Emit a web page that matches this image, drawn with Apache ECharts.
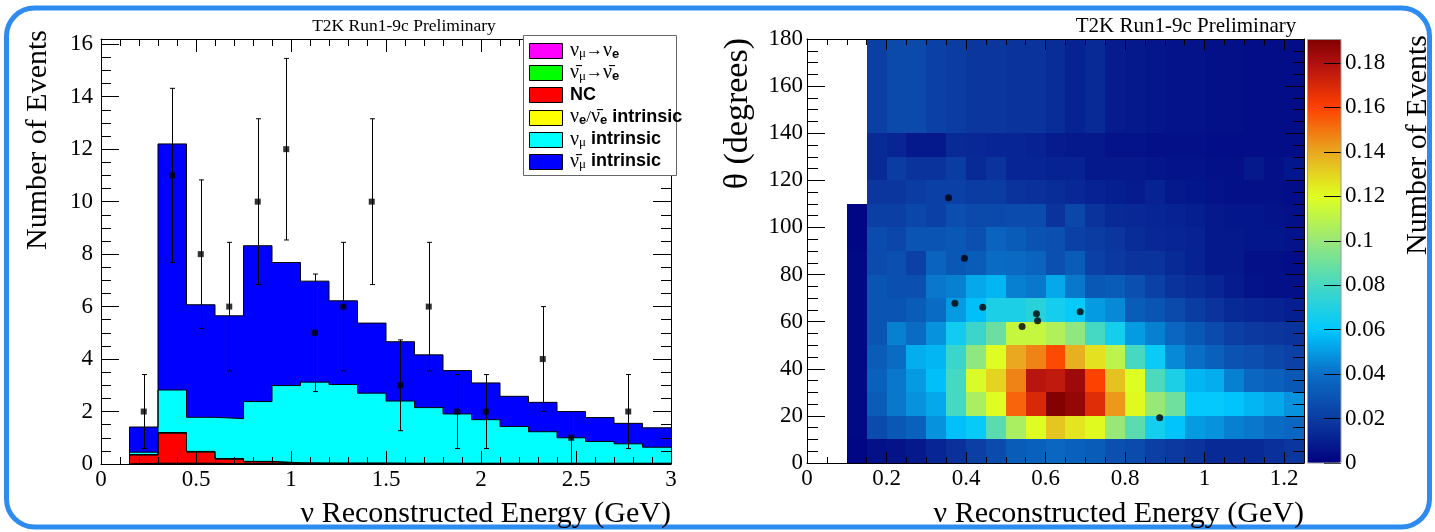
<!DOCTYPE html>
<html><head><meta charset="utf-8">
<script src="https://cdn.jsdelivr.net/npm/echarts@6/dist/echarts.min.js"></script>
<style>html,body{margin:0;padding:0;background:#fff}#c{width:1435px;height:532px}</style>
</head><body><div id="c"></div>
<script>
// ================= DATA =================
// Left panel: reconstructed-energy bins (GeV)
const binEdges = [0.15,0.30,0.45,0.60,0.75,0.90,1.05,1.20,1.35,1.50,1.65,1.80,1.95,2.10,2.25,2.40,2.55,2.70,2.85,3.00];
// predicted events per bin, per component (stacked bottom -> top)
const numuToNue       = [0.01,0.02,0.02,0.01,0.01,0.01,0.01,0.01,0.01,0.01,0.01,0.01,0.01,0.01,0.01,0.01,0.01,0.01,0.01];
const numubarToNuebar = [0.02,0.01,0.01,0,0,0,0,0,0,0,0,0,0,0,0,0,0,0,0];
const ncEvents        = [0.31,1.14,0.42,0.17,0.07,0.02,0.01,0.01,0.01,0.01,0.01,0.01,0.01,0.01,0.01,0.01,0.01,0.01,0.01];
const nueIntrinsic    = [0.02,0.03,0.03,0.03,0.02,0.02,0.02,0.02,0.02,0.01,0.01,0.01,0.01,0.01,0.01,0.01,0.01,0.01,0.01];
const numuIntrinsic   = [0.09,1.62,1.30,1.52,2.28,2.94,3.08,2.99,2.66,2.37,2.12,1.88,1.66,1.40,1.20,0.97,0.83,0.74,0.61];
const numubarIntrinsic= [0.96,9.38,4.29,3.92,5.94,4.69,3.85,3.19,2.67,2.26,2.01,1.65,1.40,1.15,1.12,1.00,0.91,0.78,0.74];
// observed data (per bin centre) and error bars
const dataCounts = [2,11,8,6,10,12,5,6,10,3,6,2,2,0,4,1,0,2,0];
const dataErrors = [1.41,3.32,2.83,2.45,3.16,3.46,2.24,2.45,3.16,1.73,2.45,1.41,1.41,0,2,1,0,1.41,0];

// Right panel: 2D prediction, energy (GeV) x theta (deg)
const eEdges = [0.10,0.15,0.20,0.25,0.30,0.35,0.40,0.45,0.50,0.55,0.60,0.65,0.70,0.75,0.80,0.85,0.90,0.95,1.00,1.05,1.10,1.15,1.20,1.25];
const thetaEdges = [0,10,20,30,40,50,60,70,80,90,100,110,120,130,140,180];
const row000 = [0.002,0.005,0.006,0.008,0.012,0.016,0.021,0.026,0.033,0.035,0.037,0.035,0.033,0.028,0.026,0.021,0.019,0.017,0.014,0.014,0.014,0.016,0.018];
const row010 = [0.003,0.026,0.031,0.035,0.048,0.058,0.062,0.085,0.105,0.120,0.133,0.126,0.121,0.100,0.085,0.066,0.059,0.050,0.048,0.044,0.042,0.039,0.037];
const row020 = [0.003,0.033,0.042,0.048,0.053,0.080,0.105,0.120,0.153,0.170,0.190,0.186,0.168,0.143,0.121,0.100,0.090,0.061,0.061,0.059,0.056,0.053,0.048];
const row030 = [0.003,0.035,0.042,0.050,0.058,0.080,0.118,0.130,0.147,0.178,0.176,0.184,0.160,0.134,0.120,0.082,0.068,0.056,0.054,0.044,0.037,0.035,0.031];
const row040 = [0.003,0.033,0.039,0.054,0.056,0.077,0.098,0.120,0.140,0.147,0.158,0.138,0.127,0.110,0.080,0.063,0.046,0.040,0.035,0.029,0.027,0.024,0.022];
const row050 = [0.003,0.030,0.044,0.039,0.048,0.065,0.077,0.089,0.113,0.113,0.107,0.098,0.080,0.066,0.050,0.044,0.037,0.031,0.026,0.021,0.019,0.018,0.017];
const row060 = [0.003,0.030,0.030,0.033,0.039,0.050,0.058,0.068,0.068,0.072,0.066,0.062,0.050,0.046,0.033,0.030,0.025,0.020,0.017,0.014,0.012,0.011,0.010];
const row070 = [0.003,0.030,0.028,0.028,0.042,0.044,0.053,0.056,0.044,0.042,0.053,0.042,0.031,0.033,0.028,0.022,0.017,0.015,0.012,0.009,0.006,0.005,0.005];
const row080 = [0.003,0.026,0.028,0.022,0.036,0.031,0.033,0.039,0.038,0.036,0.028,0.033,0.022,0.019,0.017,0.017,0.014,0.011,0.008,0.008,0.005,0.005,0.004];
const row090 = [0.002,0.026,0.024,0.030,0.030,0.031,0.028,0.036,0.033,0.029,0.028,0.022,0.020,0.018,0.015,0.013,0.012,0.011,0.008,0.008,0.007,0.007,0.006];
const row100 = [0.002,0.021,0.021,0.024,0.022,0.027,0.025,0.025,0.026,0.026,0.017,0.024,0.017,0.014,0.013,0.012,0.011,0.010,0.008,0.007,0.007,0.006,0.005];
const row110 = [0,0.018,0.018,0.020,0.022,0.022,0.020,0.020,0.017,0.016,0.015,0.013,0.011,0.010,0.009,0.011,0.008,0.007,0.006,0.005,0.005,0.005,0.004];
const row120 = [0,0.014,0.020,0.017,0.017,0.020,0.014,0.017,0.012,0.012,0.011,0.011,0.008,0.008,0.008,0.007,0.006,0.006,0.005,0.005,0.008,0.005,0.007];
const row130 = [0,0.014,0.012,0.008,0.008,0.014,0.013,0.012,0.012,0.011,0.009,0.008,0.008,0.006,0.006,0.005,0.005,0.005,0.004,0.004,0.004,0.004,0.004];
const row140 = [0,0.021,0.025,0.025,0.022,0.020,0.018,0.018,0.017,0.017,0.015,0.011,0.014,0.009,0.008,0.007,0.006,0.006,0.005,0.005,0.004,0.004,0.004];
const heatRows = [row000,row010,row020,row030,row040,row050,row060,row070,row080,row090,row100,row110,row120,row130,row140];
// observed events in the 2D panel
const obsEnergy = [0.356,0.396,0.372,0.442,0.541,0.577,0.580,0.687,0.887];
const obsTheta  = [112.6,86.9,67.8,66.1,57.9,63.4,60.4,64.2,19.2];

// tick labels
const leftXTicks  = [0,0.5,1,1.5,2,2.5,3];
const leftYTicks  = [0,2,4,6,8,10,12,14,16];
const rightXTicks = [0,0.2,0.4,0.6,0.8,1,1.2];
const rightYTicks = [0,20,40,60,80,100,120,140,160,180];
const colorTicks  = [0,0.02,0.04,0.06,0.08,0.1,0.12,0.14,0.16,0.18];

// ================= STYLE =================
const SERIF = 'Liberation Serif', SANS = 'Liberation Sans';
const layerNames  = ['numu_nue','numubar_nuebar','nc','nue_intr','numu_intr','numubar_intr'];
const layerColors = ['#ff00ff','#00ff00','#ff0000','#ffff00','#00ffff','#0000ff'];
const layerData   = [numuToNue,numubarToNuebar,ncEvents,nueIntrinsic,numuIntrinsic,numubarIntrinsic];
const legendLabels = [
  '{n|ν}{s|μ}{a|→}{n|ν}{se|e}',
  '{n|ν\u0304}{s|μ}{a|→}{n|ν\u0304}{se|e}',
  '{b|NC}',
  '{n|ν}{se|e}{a|/}{n|ν\u0304}{se|e}{b| intrinsic}',
  '{n|ν}{s|μ}{b| intrinsic}',
  '{n|ν\u0304}{s|μ}{b| intrinsic}'
];
const paletteStops = [[0,'#000080'],[0.01,'#061f90'],[0.02,'#0b3ca2'],[0.04,'#0a6ec6'],[0.06,'#00c8ff'],[0.08,'#45d8c3'],[0.10,'#98e878'],[0.12,'#e0ff20'],[0.14,'#e8a820'],[0.16,'#ff4000'],[0.18,'#b01010'],[0.1908,'#800000']];
const CMAX = 0.1908;

function hex2rgb(h){return [parseInt(h.substr(1,2),16),parseInt(h.substr(3,2),16),parseInt(h.substr(5,2),16)];}
function paletteAt(v){
  for (let i=1;i<paletteStops.length;i++){
    if (v<=paletteStops[i][0]){
      const a=paletteStops[i-1], b=paletteStops[i];
      const t=(v-a[0])/(b[0]-a[0]); const ca=hex2rgb(a[1]), cb=hex2rgb(b[1]);
      return 'rgb('+ca.map((c,k)=>Math.round(c+(cb[k]-c)*t)).join(',')+')';
    }
  }
  return paletteStops[paletteStops.length-1][1];
}
const paletteColors=[]; for(let i=0;i<=120;i++) paletteColors.push(paletteAt(CMAX*i/120));

function minorList(max, step){const a=[];for(let i=0;i*step<=max+1e-9;i++)a.push(Math.round(i*step*10000)/10000);return a;}

function mkAxis(gridIndex, position, min, max, ticks, len, opt){
  opt = opt||{};
  return {
    type:'value', gridIndex, position, min, max, z:10, silent:true,
    axisLine:{show:!!opt.line, onZero:false, lineStyle:{color:'#000',width:1}},
    axisTick:{show:true, inside:true, length:len, customValues:ticks, lineStyle:{color:'#000',width:1}},
    axisLabel: opt.labels ? {show:true, customValues:opt.labels, color:'#000', fontFamily:SERIF, fontSize:23, margin:opt.margin} : {show:false},
    splitLine:{show:false}, axisPointer:{show:false}
  };
}

// cumulative stacks
const cumul=[]; let run=binEdges.slice(1).map(()=>0);
layerData.forEach(arr=>{run=run.map((v,i)=>v+arr[i]); cumul.push(run.slice());});
function stepPoints(levels){
  const pts=[[binEdges[0],0]];
  levels.forEach((l,i)=>pts.push([binEdges[i],l]));
  pts.push([binEdges[binEdges.length-1],levels[levels.length-1]]);
  return pts;
}
const centers = binEdges.slice(1).map((e,i)=>Math.round((binEdges[i]+e)/2*1000)/1000);

const xAxes = [
  mkAxis(0,'bottom',0,3,leftXTicks,13,{line:true,labels:leftXTicks,margin:4}),
  mkAxis(0,'bottom',0,3,minorList(3,0.1),7),
  mkAxis(0,'top',0,3,leftXTicks,13,{line:true}),
  mkAxis(0,'top',0,3,minorList(3,0.1),7),
  mkAxis(1,'bottom',0,1.25,rightXTicks,11,{line:true,labels:rightXTicks,margin:4}),
  mkAxis(1,'bottom',0,1.25,minorList(1.25,0.05),6),
  mkAxis(1,'top',0,1.25,rightXTicks,11,{line:true}),
  mkAxis(1,'top',0,1.25,minorList(1.25,0.05),6),
  {type:'value',gridIndex:2,min:0,max:1,show:false}
];
const yAxes = [
  mkAxis(0,'left',0,16.2,leftYTicks,18,{line:true,labels:leftYTicks,margin:8}),
  mkAxis(0,'left',0,16.2,minorList(16,0.5),10),
  mkAxis(0,'right',0,16.2,leftYTicks,18,{line:true}),
  mkAxis(0,'right',0,16.2,minorList(16,0.5),10),
  mkAxis(1,'left',0,180,rightYTicks,18,{line:true,labels:rightYTicks,margin:4}),
  mkAxis(1,'left',0,180,minorList(180,5),11),
  mkAxis(1,'right',0,180,rightYTicks,18,{line:true}),
  mkAxis(1,'right',0,180,minorList(180,5),11),
  mkAxis(2,'right',0,CMAX,colorTicks,17,{labels:colorTicks,margin:4})
];

const series = [];
// stacked histogram (draw top of stack first)
for (let k=layerData.length-1;k>=0;k--){
  series.push({
    type:'line', name:layerNames[k], xAxisIndex:0, yAxisIndex:0,
    data:stepPoints(cumul[k]), step:'end', symbol:'none', silent:true,
    lineStyle:{color:'#000',width:1}, areaStyle:{color:layerColors[k],opacity:1,origin:'start'}, z:2
  });
}
// data error bars
const obsPts = centers.map((c,i)=>[c,dataCounts[i],dataErrors[i]]).filter(p=>p[1]>0);
series.push({
  type:'custom', xAxisIndex:0, yAxisIndex:0, data:obsPts, z:4, silent:true,
  encode:{x:0,y:1},
  renderItem:function(params,api){
    const x=api.value(0), y=api.value(1), e=api.value(2);
    const t=api.coord([x,y+e]), b=api.coord([x,y-e]);
    const px=Math.round(t[0])+0.5, cap=2.5, st={stroke:'#000',lineWidth:1};
    return {type:'group',children:[
      {type:'line',shape:{x1:px,y1:t[1],x2:px,y2:b[1]},style:st},
      {type:'line',shape:{x1:px-cap,y1:t[1],x2:px+cap,y2:t[1]},style:st},
      {type:'line',shape:{x1:px-cap,y1:b[1],x2:px+cap,y2:b[1]},style:st}
    ]};
  }
});
series.push({type:'scatter',xAxisIndex:0,yAxisIndex:0,data:obsPts.map(p=>[p[0],p[1]]),symbol:'rect',symbolSize:6,itemStyle:{color:'#000'},z:5,silent:true});

// heatmap cells
const cells=[];
heatRows.forEach((row,r)=>row.forEach((v,c)=>{ if(v>0) cells.push([eEdges[c],eEdges[c+1],thetaEdges[r],thetaEdges[r+1],v]); }));
series.push({
  type:'custom', xAxisIndex:4, yAxisIndex:4, data:cells, z:2, silent:true,
  encode:{x:[0,1],y:[2,3]},
  renderItem:function(params,api){
    const p0=api.coord([api.value(0),api.value(2)]), p1=api.coord([api.value(1),api.value(3)]);
    const x0=Math.round(p0[0]), x1=Math.round(p1[0]), y0=Math.round(p1[1]), y1=Math.round(p0[1]);
    return {type:'rect',shape:{x:x0,y:y0,width:x1-x0,height:y1-y0},style:{fill:api.visual('color')}};
  }
});
series.push({type:'scatter',xAxisIndex:4,yAxisIndex:4,data:obsEnergy.map((e,i)=>[e,obsTheta[i]]),symbol:'circle',symbolSize:7,itemStyle:{color:'#000'},z:5,silent:true});
const heatIndex = series.length-2;

// legend (graphic)
const legendEls=[{type:'rect',shape:{x:523.5,y:35.5,width:153,height:140},style:{fill:'#fff',stroke:'#666',lineWidth:1},z:20}];
const legendOrder=[0,1,2,3,4,5];
legendOrder.forEach((k,i)=>{
  const cy=50.5+i*22.2;
  legendEls.push({type:'rect',shape:{x:529.5,y:Math.round(cy-7.5)+0.5,width:33,height:15},style:{fill:layerColors[k],stroke:'#000',lineWidth:1},z:21});
  legendEls.push({type:'text',x:570,y:cy,z:21,style:{text:legendLabels[k],align:'left',verticalAlign:'middle',fill:'#000',
    rich:{
      n:{fontFamily:SERIF,fontSize:20,lineHeight:20,fill:'#000'},
      a:{fontFamily:SERIF,fontSize:17,lineHeight:20,fill:'#000'},
      s:{fontFamily:SERIF,fontSize:13,lineHeight:10,verticalAlign:'bottom',fill:'#000'},
      se:{fontFamily:SANS,fontWeight:'bold',fontSize:13,lineHeight:10,verticalAlign:'bottom',fill:'#000'},
      b:{fontFamily:SANS,fontWeight:'bold',fontSize:18,lineHeight:20,fill:'#000'}
    }}});
});

const textEl=(x,y,text,size,align,rot,extra)=>Object.assign({type:'text',x,y,rotation:rot||0,z:30,silent:true,
  style:{text,font:size+'px "'+SERIF+'"',fill:'#000',align:align,verticalAlign:'middle'}},extra||{});

const option = {
  animation:false,
  backgroundColor:'#fff',
  grid:[
    {left:101,top:39,width:570,height:425,containLabel:false,outerBoundsMode:'none'},
    {left:807,top:39,width:497,height:424,containLabel:false,outerBoundsMode:'none'},
    {left:1307,top:39,width:34,height:424,containLabel:false,outerBoundsMode:'none'}
  ],
  xAxis:xAxes, yAxis:yAxes,
  visualMap:[{type:'continuous',min:0,max:CMAX,dimension:4,seriesIndex:heatIndex,inRange:{color:paletteColors},
    left:1307,top:39,itemWidth:34,itemHeight:424,padding:0,calculable:false,hoverLink:false,text:null,showLabel:false,z:5}],
  series:series,
  graphic:[
    {type:'rect',shape:{x:6.5,y:8,width:1423,height:519,r:28},style:{fill:'none',stroke:'#2e8bf0',lineWidth:5},z:0,silent:true},
    {type:'rect',shape:{x:1307.5,y:39.5,width:33.5,height:423.5},style:{fill:'none',stroke:'#999',lineWidth:1},z:25,silent:true},
    textEl(404,26,'T2K Run1-9c Preliminary',17.5,'center'),
    textEl(1186,26,'T2K Run1-9c Preliminary',21,'center'),
    textEl(671,514,'ν Reconstructed Energy (GeV)',30,'right'),
    textEl(1304,514,'ν Reconstructed Energy (GeV)',30,'right'),
    textEl(38,30,'Number of Events',30,'right',Math.PI/2),
    textEl(738,38,'θ (degrees)',34,'right',Math.PI/2),
    textEl(1418,35,'Number of Events',30,'right',Math.PI/2)
  ].concat(legendEls)
};
const chart = echarts.init(document.getElementById('c'),null,{renderer:'canvas'});
chart.setOption(option);
</script></body></html>
